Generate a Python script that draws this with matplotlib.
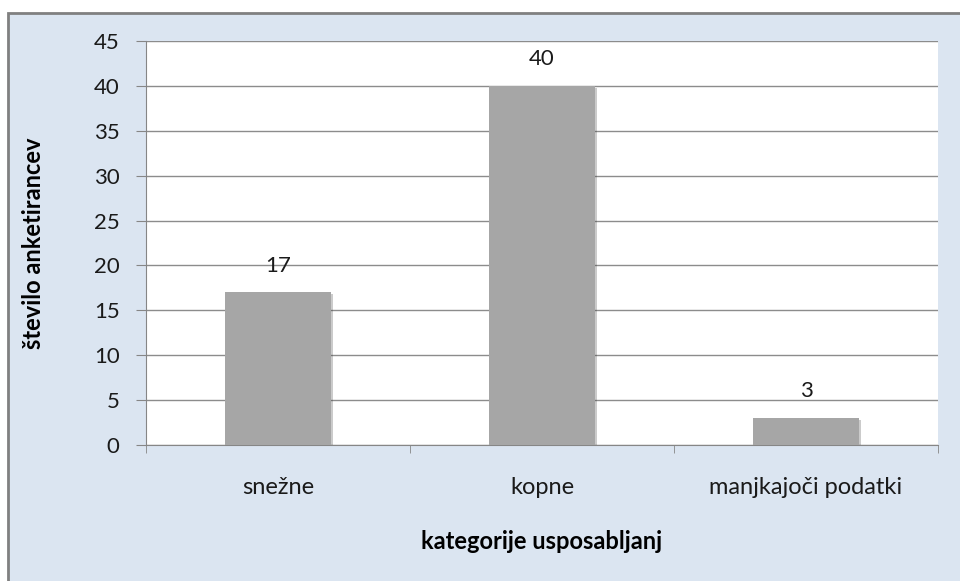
import matplotlib.pyplot as plt
import matplotlib.patheffects as pe
from matplotlib.patches import Rectangle

kategorije = ["snežne", "kopne", "manjkajoči podatki"]
vrednosti = [17, 40, 3]
yticks = [0, 5, 10, 15, 20, 25, 30, 35, 40, 45]

plt.rcParams['font.family'] = ['Lato', 'DejaVu Sans']

fig = plt.figure(figsize=(9.6, 5.81), dpi=100)
fig.patch.set_facecolor("white")

# ozadje grafikona z obrobo (odrezano desno in spodaj)
fig.patches.append(Rectangle((8 / 960, -0.1), 1.0, (581 - 13) / 581 + 0.1,
                             transform=fig.transFigure, facecolor="#dbe5f1",
                             edgecolor="#808080", linewidth=2, zorder=-1))

ax = fig.add_axes([146 / 960, (581 - 445) / 581, 792 / 960, 404 / 581])
ax.set_zorder(1)
ax.set_facecolor("white")

x = range(len(kategorije))
stolpci = ax.bar(x, vrednosti, width=0.4, color="#a6a6a6", zorder=3)
for s in stolpci:
    s.set_path_effects([pe.SimplePatchShadow(offset=(1.5, -1.5), alpha=0.25), pe.Normal()])

for i, v in enumerate(vrednosti):
    ax.annotate(str(v), (i, v), xytext=(0, 12), textcoords="offset points",
                ha="center", va="bottom", fontsize=16, color="#1a1a1a")

ax.set_xlim(-0.5, len(kategorije) - 0.5)
ax.set_ylim(0, 45)
ax.set_yticks(yticks)
ax.yaxis.grid(True, color="#8c8c8c", linewidth=1)
ax.set_axisbelow(True)

ax.set_xticks(x)
ax.set_xticklabels(kategorije, fontsize=17, color="#1a1a1a")
ax.tick_params(axis="x", length=0, pad=23)
ax.set_xticks([-0.5, 0.5, 1.5, 2.5], minor=True)
ax.tick_params(axis="x", which="minor", length=6, color="#868686", direction="out")
ax.tick_params(axis="y", labelsize=16, labelcolor="#1a1a1a", length=7,
               color="#868686", pad=12)

for side in ["top", "right"]:
    ax.spines[side].set_visible(False)
for side in ["left", "bottom"]:
    ax.spines[side].set_color("#868686")

ax.set_ylabel("število anketirancev", fontsize=17, fontweight="bold", labelpad=35)
ax.set_xlabel("kategorije usposabljanj", fontsize=17, fontweight="bold", labelpad=23)

fig.savefig("out.png", dpi=100)
